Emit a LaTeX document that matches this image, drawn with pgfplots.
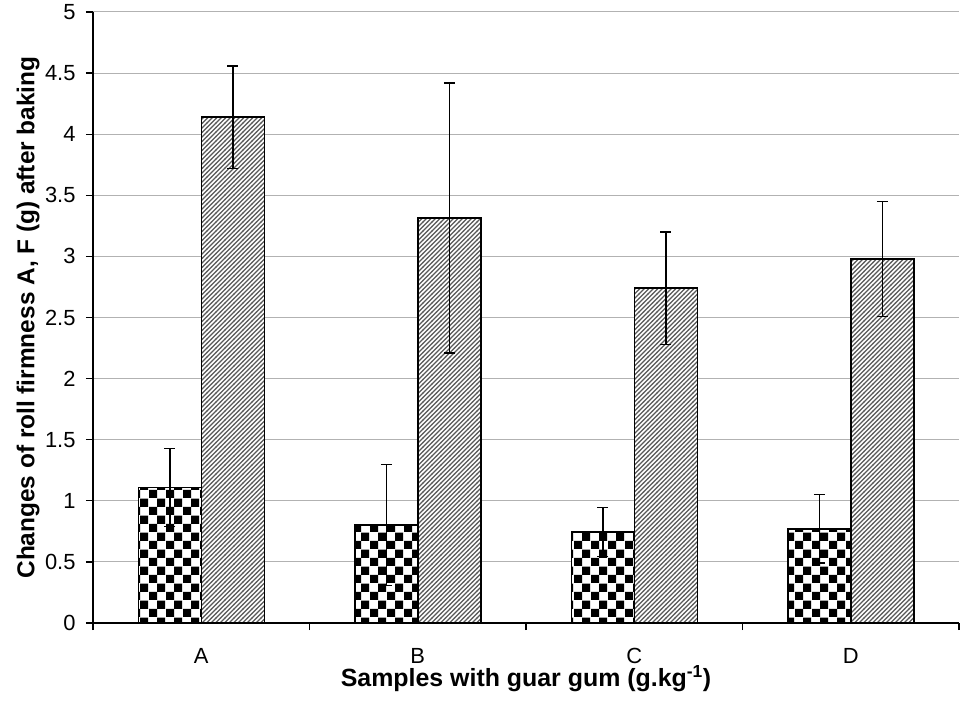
\documentclass[border=0pt]{standalone}
\usepackage{fontspec}
\setmainfont{Liberation Sans}
\usepackage{pgfplots}
\pgfplotsset{compat=1.18}
\usetikzlibrary{patterns}
\pgfdeclarepatternformonly{bigcheck}{\pgfpointorigin}{\pgfpoint{16.6bp}{16.6bp}}{\pgfpoint{16.6bp}{16.6bp}}{%
  \pgfpathrectangle{\pgfpointorigin}{\pgfpoint{8.3bp}{8.3bp}}%
  \pgfpathrectangle{\pgfpoint{8.3bp}{8.3bp}}{\pgfpoint{8.3bp}{8.3bp}}%
  \pgfusepath{fill}}
\pgfdeclarepatternformonly{diaglines}{\pgfpoint{-1bp}{-1bp}}{\pgfpoint{5.5bp}{5.5bp}}{\pgfpoint{4.5bp}{4.5bp}}{%
  \pgfsetlinewidth{1.2bp}%
  \pgfpathmoveto{\pgfpoint{-0.2bp}{-0.2bp}}\pgfpathlineto{\pgfpoint{4.7bp}{4.7bp}}\pgfusepath{stroke}}
\pgfplotstableread{
x  a     ae    f     fe
1  1.11  0.32  4.14  0.42
2  0.80  0.495 3.315 1.105
3  0.745 0.20  2.74  0.46
4  0.77  0.28  2.98  0.47
}\datatable
\newcommand\tickfont{\fontsize{22}{26}\selectfont}
\begin{document}
\begin{tikzpicture}
\path (0,0) rectangle (960bp,717bp);
\begin{axis}[
  at={(93bp,94bp)}, anchor=south west,
  scale only axis, width=866bp, height=611bp,
  xmin=0.5, xmax=4.5, ymin=0, ymax=5,
  axis x line*=bottom, axis y line*=left,
  axis line style={line width=1.5bp, black},
  ybar=0pt, bar width=63bp,
  xtick={1,2,3,4}, xticklabels={A,B,C,D},
  minor xtick={0.5,1.5,2.5,3.5,4.5},
  major x tick style={draw=none},
  minor x tick style={line width=1.3bp, black},
  ytick={0,0.5,...,5},
  y tick style={line width=1.3bp, black},
  major tick length=7bp, minor tick length=7bp,
  tick align=outside,
  /pgf/number format/assume math mode=true,
  every tick label/.append style={font=\tickfont},
  yticklabel style={font=\tickfont, /pgf/number format/fixed, /pgf/number format/precision=1, xshift=-7bp},
  xticklabel style={font=\tickfont, anchor=center, yshift=-26bp},
  ymajorgrids, grid style={line width=1bp, gray!60},
  xlabel={\textbf{Samples with guar gum (g.kg\textsuperscript{-1})}},
  ylabel={\textbf{Changes of roll firmness A, F (g) after baking}},
  every axis x label/.style={at={(axis description cs:0.5,0)}, yshift=-56bp, anchor=center, font=\fontsize{25}{29}\selectfont},
  every axis y label/.style={at={(axis description cs:0,0.5)}, xshift=-65bp, rotate=90, anchor=center, font=\fontsize{24.5}{29}\selectfont},
  clip=false,
]
\addplot[draw=black, line width=1.5bp, fill=white, postaction={pattern=bigcheck},
  error bars/.cd, y dir=both, y explicit,
  error bar style={line width=1.5bp, black},
  error mark options={rotate=90, mark size=5.5bp, line width=1.5bp, black}]
  table[x=x, y=a, y error=ae]{\datatable};
\addplot[draw=black, line width=1.5bp, fill=white, postaction={pattern=diaglines, pattern color=black!65},
  error bars/.cd, y dir=both, y explicit,
  error bar style={line width=1.5bp, black},
  error mark options={rotate=90, mark size=5.5bp, line width=1.5bp, black}]
  table[x=x, y=f, y error=fe]{\datatable};
\end{axis}
\end{tikzpicture}
\end{document}
